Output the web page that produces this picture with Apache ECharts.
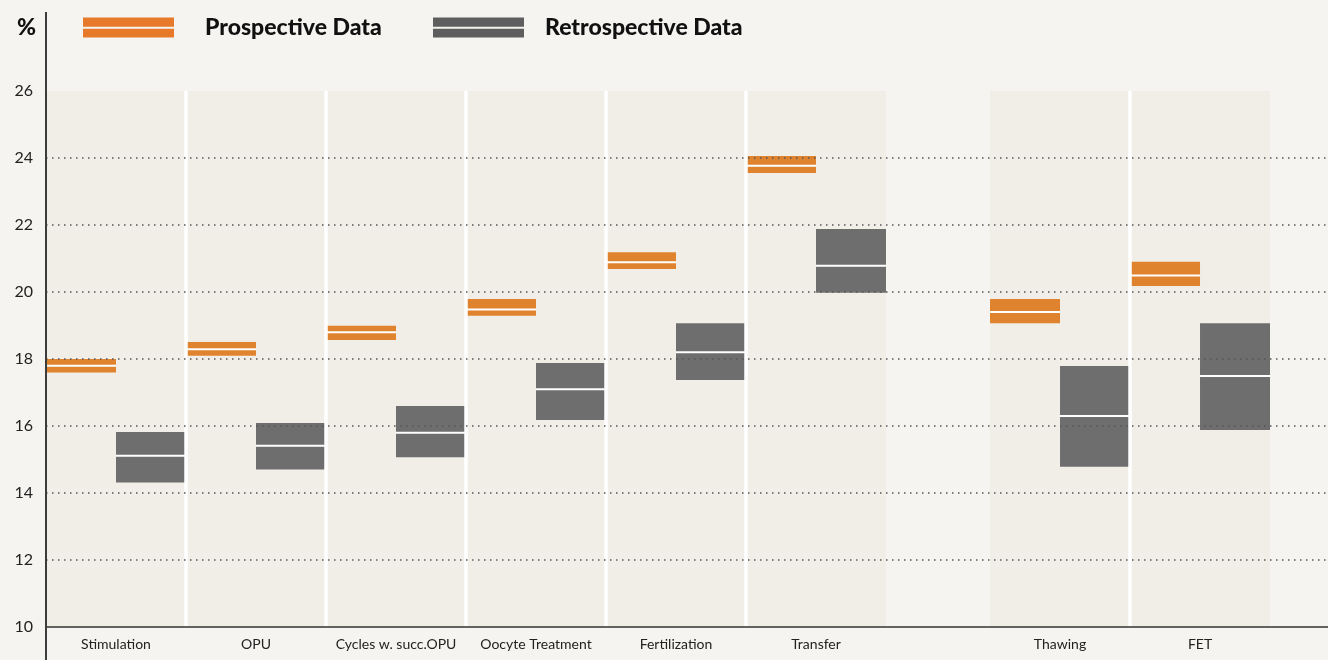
<!DOCTYPE html>
<html>
<head>
<meta charset="utf-8">
<script src="https://cdn.jsdelivr.net/npm/echarts@6/dist/echarts.min.js"></script>
<style>
  html, body { margin: 0; padding: 0; background: #f5f4f0; }
  #chart { width: 1328px; height: 660px; }
</style>
</head>
<body>
<div id="chart"></div>
<script>
// ---- data ----
const categories = ['Stimulation', 'OPU', 'Cycles w. succ.OPU', 'Oocyte Treatment', 'Fertilization', 'Transfer', 'Thawing', 'FET'];
const prospectiveLow  = [17.60, 18.10, 18.57, 19.29, 20.69, 23.55, 19.07, 20.18];
const prospectiveMid  = [17.80, 18.29, 18.80, 19.48, 20.89, 23.77, 19.40, 20.49];
const prospectiveHigh = [18.00, 18.51, 18.99, 19.79, 21.19, 24.06, 19.79, 20.90];
const retroLow  = [14.31, 14.70, 15.07, 16.18, 17.37, 19.98, 14.78, 15.88];
const retroMid  = [15.11, 15.41, 15.80, 17.10, 18.20, 20.78, 16.30, 17.49];
const retroHigh = [15.82, 16.09, 16.60, 17.88, 19.07, 21.88, 17.79, 19.07];
const yTicks = [10, 12, 14, 16, 18, 20, 22, 24, 26];
const seriesNames = ['Prospective Data', 'Retrospective Data'];

// ---- layout ----
const GRID_LEFT = 46, GRID_RIGHT = 0, GRID_TOP = 91, GRID_BOTTOM = 33;
const PANEL_PX = 140;
const GAP_AFTER = 5;       // extra space after this category index
const GAP_UNITS = 0.743;   // size of that space in panel widths
const X_MAX = (1328 - GRID_LEFT - GRID_RIGHT) / PANEL_PX;
const Y_MIN = yTicks[0], Y_MAX = yTicks[yTicks.length - 1];

function startOf(i) { return i + (i > GAP_AFTER ? GAP_UNITS : 0); }
const starts = categories.map((c, i) => startOf(i));
const centers = starts.map(s => s + 0.5);

const ORANGE = '#e0832e', ORANGE_LEG = '#e77a2a';
const GREY = '#6e6e6e', GREY_LEG = '#5e5e5e';
const PANEL = '#f1eee7', BG = '#f5f4f0';
const FONT = 'Lato, "Open Sans", sans-serif';

function boxRender(offset) {
  return function (params, api) {
    const xs = api.value(0);
    const lo = api.value(1), mid = api.value(2), hi = api.value(3);
    const a = api.coord([xs + offset, hi]);
    const b = api.coord([xs + offset + 0.5, lo]);
    const m = api.coord([xs + offset, mid]);
    const w = b[0] - a[0];
    return {
      type: 'group',
      children: [
        { type: 'rect', shape: { x: a[0], y: a[1], width: w, height: b[1] - a[1] },
          style: { fill: api.visual('color') } },
        { type: 'rect', shape: { x: a[0], y: m[1] - 1, width: w, height: 2 },
          style: { fill: '#ffffff' } }
      ]
    };
  };
}

const legendText = { fontFamily: FONT, fontWeight: 900, fontSize: 23, color: '#111', lineHeight: 20 };

const chart = echarts.init(document.getElementById('chart'), null, { renderer: 'canvas' });
const option = {
  backgroundColor: BG,
  animation: false,
  textStyle: { fontFamily: FONT },
  title: {
    text: '%', left: 12, top: 11,
    textStyle: { fontFamily: FONT, fontWeight: 900, fontSize: 23, color: '#111' }
  },
  legend: [
    {
      left: 83, top: 16, padding: 0, itemWidth: 91, itemHeight: 20, selectedMode: false,
      data: [{ name: seriesNames[0], icon: 'path://M0,0H91V9.3H0Z M0,11.3H91V20H0Z', itemStyle: { color: ORANGE_LEG } }],
      formatter: '{s|}{t|{name}}',
      textStyle: { rich: { s: { width: 26 }, t: legendText } }
    },
    {
      left: 433, top: 16, padding: 0, itemWidth: 91, itemHeight: 20, selectedMode: false,
      data: [{ name: seriesNames[1], icon: 'path://M0,0H91V9.3H0Z M0,11.3H91V20H0Z', itemStyle: { color: GREY_LEG } }],
      formatter: '{s|}{t|{name}}',
      textStyle: { rich: { s: { width: 16 }, t: legendText } }
    }
  ],
  grid: { left: GRID_LEFT, right: GRID_RIGHT, top: GRID_TOP, bottom: GRID_BOTTOM, containLabel: false },
  xAxis: {
    type: 'value', min: 0, max: X_MAX, z: 10,
    axisLine: { show: true, lineStyle: { color: '#333', width: 1.5 } },
    axisTick: { show: false },
    splitLine: { show: false },
    axisLabel: {
      customValues: centers,
      margin: 10,
      fontFamily: FONT, fontSize: 14, color: '#222',
      formatter: function (v) {
        for (let i = 0; i < centers.length; i++) {
          if (Math.abs(centers[i] - v) < 1e-6) return categories[i];
        }
        return '';
      }
    }
  },
  yAxis: {
    type: 'value', min: Y_MIN, max: Y_MAX, interval: 2, z: 10,
    axisLine: { show: false },
    axisTick: { show: false },
    axisLabel: { margin: 13, fontFamily: FONT, fontSize: 16, color: '#222' },
    splitLine: {
      show: true, showMinLine: false, showMaxLine: false,
      lineStyle: { color: '#555', width: 1.5, type: [1.5, 4.5] }
    }
  },
  graphic: [
    { type: 'line', z: 100, shape: { x1: GRID_LEFT, y1: 12, x2: GRID_LEFT, y2: 660 },
      style: { stroke: '#3c3c3c', lineWidth: 2 } }
  ],
  series: [
    {
      name: 'panels', type: 'custom', silent: true, z: 1,
      data: starts.map(s => [s]),
      renderItem: function (params, api) {
        const xs = api.value(0);
        const a = api.coord([xs, Y_MAX]);
        const b = api.coord([xs + 1, Y_MIN]);
        return { type: 'rect', shape: { x: a[0], y: a[1], width: b[0] - a[0], height: b[1] - a[1] },
                 style: { fill: PANEL } };
      }
    },
    {
      name: seriesNames[0], type: 'custom', z: 2,
      itemStyle: { color: ORANGE },
      data: starts.map((s, i) => [s, prospectiveLow[i], prospectiveMid[i], prospectiveHigh[i]]),
      renderItem: boxRender(0)
    },
    {
      name: seriesNames[1], type: 'custom', z: 2,
      itemStyle: { color: GREY },
      data: starts.map((s, i) => [s, retroLow[i], retroMid[i], retroHigh[i]]),
      renderItem: boxRender(0.5)
    },
    {
      name: 'separators', type: 'custom', silent: true, z: 3,
      data: starts.filter((s, i) => i < starts.length - 1 && Math.abs(starts[i + 1] - (s + 1)) < 1e-6).map(s => [s + 1]),
      renderItem: function (params, api) {
        const xs = api.value(0);
        const a = api.coord([xs, Y_MAX]);
        const b = api.coord([xs, Y_MIN]);
        return { type: 'rect', shape: { x: a[0] - 1.75, y: a[1], width: 3.5, height: b[1] - a[1] },
                 style: { fill: '#ffffff' } };
      }
    }
  ]
};
chart.setOption(option);
</script>
</body>
</html>
